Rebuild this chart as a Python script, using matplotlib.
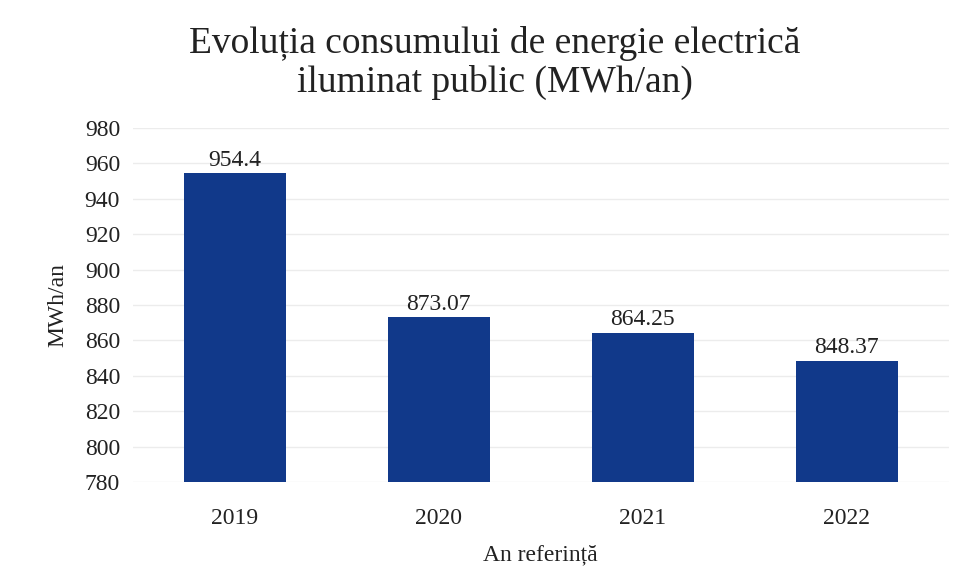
import matplotlib
matplotlib.use('Agg')
import matplotlib.pyplot as plt

# ─── Date ─────────────────────────────────────────────────────────────────────
ani = ["2019", "2020", "2021", "2022"]
consum = [954.4, 873.07, 864.25, 848.37]
etichete = ["954.4", "873.07", "864.25", "848.37"]
yticks = list(range(780, 1000, 20))

plt.rcParams["font.family"] = ["Liberation Serif", "DejaVu Serif"]

fig = plt.figure(figsize=(9.61, 5.87), dpi=100)
ax = fig.add_axes([0.138, 0.179, 0.849, 0.603])

x = range(len(ani))
bars = ax.bar(x, [v - 780 for v in consum], bottom=780, width=0.5,
              color="#11398A", zorder=3)
for b, lab in zip(bars, etichete):
    ax.text(b.get_x() + b.get_width() / 2, b.get_y() + b.get_height() + 1.5,
            lab, ha="center", va="bottom", fontsize=17, color="#222222")

ax.set_xlim(-0.5, len(ani) - 0.5)
ax.set_ylim(780, 980)
ax.set_yticks(yticks)
ax.set_xticks(list(x))
ax.set_xticklabels(ani)
ax.tick_params(axis="both", length=0, labelsize=17, colors="#222222")
ax.tick_params(axis="y", pad=9)
ax.tick_params(axis="x", pad=19)
ax.grid(axis="y", color="#ececec", linewidth=1, zorder=0)
for s in ax.spines.values():
    s.set_visible(False)

ax.set_ylabel("MWh/an", fontsize=17, color="#222222", labelpad=12)
ax.set_xlabel("An referință", fontsize=17, color="#222222", labelpad=11)
fig.suptitle("Evoluția consumului de energie electrică\niluminat public (MWh/an)",
             fontsize=27, x=0.515, y=0.955, color="#222222", linespacing=1.12)

plt.savefig("out.png", dpi=100)
